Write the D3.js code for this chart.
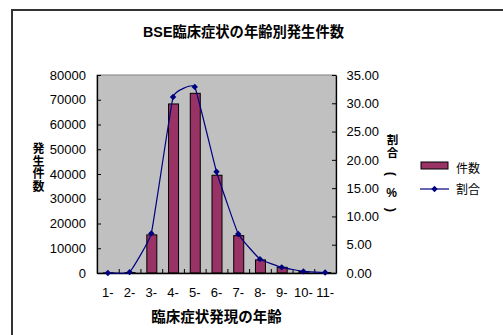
<!DOCTYPE html>
<html><head><meta charset="utf-8">
<script src="https://cdn.jsdelivr.net/npm/d3@7"></script>
<style>
body{margin:0;background:#fff;}
svg{display:block;}
text{font-family:"Liberation Sans","Noto Sans CJK JP",sans-serif;}
</style></head>
<body><svg id="c" width="503" height="335"></svg>
<script>
const categories = ["1-","2-","3-","4-","5-","6-","7-","8-","9-","10-","11-"];
const counts = [30, 150, 15400, 68300, 72600, 39500, 15100, 5300, 2300, 600, 200];
const percents = [0.01, 0.15, 7.0, 31.1, 32.9, 17.9, 6.9, 2.45, 1.0, 0.28, 0.08];
const leftTicks = [0,10000,20000,30000,40000,50000,60000,70000,80000];
const rightTicks = [0,5,10,15,20,25,30,35];
const title = "BSE臨床症状の年齢別発生件数";
const xTitle = "臨床症状発現の年齢";
const yTitleL = ["発","生","件","数"];
const legendLabels = ["件数","割合"];

const svg = d3.select("#c");
const L=97, R=336, T=75, B=273;

svg.append("rect").attr("x",12).attr("y",10).attr("width",520).attr("height",360)
  .attr("fill","#fff").attr("stroke","#333").attr("stroke-width",2);

svg.append("text").attr("x",243.5).attr("y",37).attr("text-anchor","middle")
  .attr("font-size",14.3).attr("font-weight","bold").text(title);

const x = d3.scaleBand().domain(categories).range([L,R]).padding(0);
const xi = d3.scaleLinear().domain([0,categories.length]).range([L,R]);
const yL = d3.scaleLinear().domain([0,80000]).range([B,T]);
const yR = d3.scaleLinear().domain([0,35]).range([B,T]);

svg.append("rect").attr("x",L).attr("y",T).attr("width",R-L).attr("height",B-T)
  .attr("fill","#c0c0c0").attr("stroke","#808080").attr("stroke-width",1);

const bw = x.bandwidth()*0.46;
svg.append("g").selectAll("rect").data(counts).join("rect")
  .attr("x",(d,i)=>x(categories[i])+(x.bandwidth()-bw)/2+0.5)
  .attr("y",d=>yL(d))
  .attr("width",bw)
  .attr("height",d=>B-yL(d))
  .attr("fill","#993366").attr("stroke","#000").attr("stroke-width",1);

const fmtL = d3.format("d");
const gL = svg.append("g").attr("transform",`translate(${L},0)`)
  .call(d3.axisLeft(yL).tickValues(leftTicks).tickFormat(fmtL).tickSizeInner(-4).tickSizeOuter(0).tickPadding(11));
const gR = svg.append("g").attr("transform",`translate(${R},0)`)
  .call(d3.axisRight(yR).tickValues(rightTicks).tickFormat(d3.format(".2f")).tickSizeInner(-4).tickSizeOuter(0).tickPadding(10.5));
const gB = svg.append("g").attr("transform",`translate(0,${B})`)
  .call(d3.axisBottom(xi).tickValues(d3.range(categories.length+1)).tickFormat("").tickSizeInner(-4).tickSizeOuter(0));
const gBL = svg.append("g").attr("transform",`translate(0,${B})`)
  .call(d3.axisBottom(x).tickSize(0).tickPadding(14.5));
gBL.select(".domain").remove();
[gL,gR,gB,gBL].forEach(g=>{
  g.selectAll("text").attr("font-size",13).attr("fill","#000")
   .attr("font-family","Liberation Sans, Arial, sans-serif");
  g.selectAll("line").attr("stroke","#000");
  g.select(".domain").attr("stroke","#000").attr("stroke-width",1.3);
});

const line = d3.line().x((d,i)=>x(categories[i])+x.bandwidth()/2).y(d=>yR(d))
  .curve(d3.curveCardinal.tension(0.72));
svg.append("path").datum(percents).attr("d",line).attr("fill","none")
  .attr("stroke","#000080").attr("stroke-width",1.2);
const diamond = d3.symbol().type(d3.symbolDiamond2).size(26);
svg.append("g").selectAll("path").data(percents).join("path")
  .attr("transform",(d,i)=>`translate(${x(categories[i])+x.bandwidth()/2},${yR(d)})`)
  .attr("d",diamond).attr("fill","#000080");

svg.append("text").attr("x",216.5).attr("y",322).attr("text-anchor","middle")
  .attr("font-size",14.5).attr("font-weight","bold").text(xTitle);
const lys=[149,161.5,174,186.5];
yTitleL.forEach((c,i)=>svg.append("text").attr("x",38.5).attr("y",lys[i])
  .attr("text-anchor","middle").attr("dominant-baseline","central")
  .attr("font-size",12).attr("font-weight","bold").attr("font-family","Noto Sans CJK JP").text(c));
const rt = svg.append("g");
rt.append("text").attr("x",392.5).attr("y",140).attr("text-anchor","middle").attr("dominant-baseline","central")
  .attr("font-size",11.5).attr("font-weight","bold").attr("font-family","Noto Sans CJK JP").text("割");
rt.append("text").attr("x",392.5).attr("y",152.5).attr("text-anchor","middle").attr("dominant-baseline","central")
  .attr("font-size",11.5).attr("font-weight","bold").attr("font-family","Noto Sans CJK JP").text("合");
rt.append("text").attr("transform","translate(391.5,174) rotate(90)").attr("text-anchor","middle").attr("dominant-baseline","central")
  .attr("font-size",13).attr("font-weight","bold").attr("font-family","Noto Sans CJK JP").text("(");
rt.append("text").attr("x",391.5).attr("y",192.5).attr("text-anchor","middle").attr("dominant-baseline","central")
  .attr("font-size",12).attr("font-weight","bold").text("%");
rt.append("text").attr("transform","translate(391.5,210) rotate(90)").attr("text-anchor","middle").attr("dominant-baseline","central")
  .attr("font-size",13).attr("font-weight","bold").attr("font-family","Noto Sans CJK JP").text(")");

const lg = svg.append("g");
lg.append("rect").attr("x",421).attr("y",162).attr("width",27).attr("height",7)
  .attr("fill","#993366").attr("stroke","#000").attr("stroke-width",1);
lg.append("text").attr("x",456).attr("y",169).attr("dominant-baseline","central")
  .attr("font-size",12).attr("font-family","Noto Sans CJK JP").text(legendLabels[0]);
lg.append("line").attr("x1",420).attr("x2",449).attr("y1",189).attr("y2",189)
  .attr("stroke","#000080").attr("stroke-width",1.2);
lg.append("path").attr("transform","translate(434.5,189)").attr("d",diamond).attr("fill","#000080");
lg.append("text").attr("x",456).attr("y",190).attr("dominant-baseline","central")
  .attr("font-size",12).attr("font-family","Noto Sans CJK JP").text(legendLabels[1]);
</script></body></html>
